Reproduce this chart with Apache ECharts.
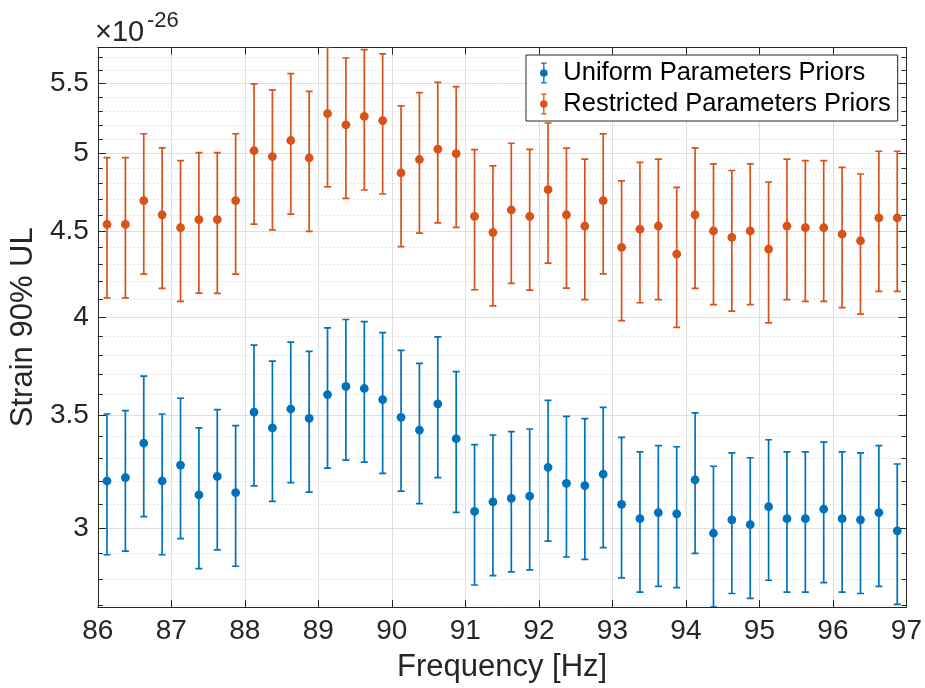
<!DOCTYPE html>
<html><head><meta charset="utf-8">
<script src="https://cdn.jsdelivr.net/npm/echarts@6/dist/echarts.min.js"></script>
<style>html,body{margin:0;padding:0;background:#fff}#c{width:925px;height:688px}</style>
</head><body><div id="c"></div>
<script>
// Frequency [Hz] of each band
const freqs = [86.125, 86.375, 86.625, 86.875, 87.125, 87.375, 87.625, 87.875,
  88.125, 88.375, 88.625, 88.875, 89.125, 89.375, 89.625, 89.875,
  90.125, 90.375, 90.625, 90.875, 91.125, 91.375, 91.625, 91.875,
  92.125, 92.375, 92.625, 92.875, 93.125, 93.375, 93.625, 93.875,
  94.125, 94.375, 94.625, 94.875, 95.125, 95.375, 95.625, 95.875,
  96.125, 96.375, 96.625, 96.875];
// Strain 90% UL (x 1e-26)
const uniformStrain = [3.20, 3.215, 3.37, 3.20, 3.27, 3.14, 3.22, 3.15,
  3.515, 3.44, 3.53, 3.485, 3.60, 3.64, 3.63, 3.575,
  3.49, 3.43, 3.555, 3.39, 3.07, 3.11, 3.125, 3.135,
  3.26, 3.19, 3.18, 3.23, 3.10, 3.04, 3.065, 3.06,
  3.205, 2.98, 3.035, 3.015, 3.09, 3.04, 3.04, 3.08,
  3.04, 3.035, 3.065, 2.99];
const uniformErr = [0.306, 0.307, 0.322, 0.306, 0.312, 0.300, 0.307, 0.301,
  0.336, 0.328, 0.337, 0.333, 0.343, 0.348, 0.347, 0.342,
  0.334, 0.327, 0.340, 0.324, 0.293, 0.297, 0.298, 0.300,
  0.312, 0.305, 0.304, 0.308, 0.296, 0.290, 0.293, 0.293,
  0.306, 0.285, 0.290, 0.288, 0.295, 0.290, 0.290, 0.294,
  0.290, 0.290, 0.293, 0.285];
const restrictedStrain = [4.54, 4.54, 4.69, 4.60, 4.52, 4.57, 4.57, 4.69,
  5.02, 4.98, 5.09, 4.97, 5.28, 5.20, 5.26, 5.23,
  4.87, 4.96, 5.03, 5.00, 4.59, 4.49, 4.63, 4.59,
  4.76, 4.60, 4.53, 4.69, 4.40, 4.51, 4.53, 4.36,
  4.60, 4.50, 4.46, 4.50, 4.39, 4.53, 4.52, 4.52,
  4.48, 4.44, 4.58, 4.58];
const restrictedErr = [0.433, 0.433, 0.447, 0.439, 0.432, 0.436, 0.437, 0.447,
  0.478, 0.474, 0.486, 0.473, 0.502, 0.496, 0.502, 0.498,
  0.466, 0.474, 0.480, 0.478, 0.437, 0.427, 0.441, 0.439,
  0.453, 0.438, 0.432, 0.446, 0.418, 0.430, 0.433, 0.415,
  0.439, 0.430, 0.426, 0.430, 0.420, 0.433, 0.432, 0.432,
  0.427, 0.423, 0.436, 0.436];
const yMajorTicks = [3, 3.5, 4, 4.5, 5, 5.5];
const yMinorTicks = [2.7, 2.8, 2.9, 3.1, 3.2, 3.3, 3.4, 3.6, 3.7, 3.8, 3.9,
  4.1, 4.2, 4.3, 4.4, 4.6, 4.7, 4.8, 4.9, 5.1, 5.2, 5.3, 5.4, 5.6, 5.7];
const seriesNames = ['Uniform Parameters Priors', 'Restricted Parameters Priors'];
const seriesColors = ['#0072BD', '#D95319'];

const FONT = '"Liberation Sans", Arial, Helvetica, sans-serif';
const AX = '#262626';
const yMin = 2.695, yMax = 5.778;

function buildData(vals, errs) {
  return freqs.map((f, i) => [f, vals[i] - errs[i], vals[i] + errs[i], vals[i]]);
}
function renderErr(params, api) {
  const x = api.value(0);
  const pLo = api.coord([x, api.value(1)]);
  const pHi = api.coord([x, api.value(2)]);
  const pC = api.coord([x, api.value(3)]);
  const color = api.visual('color');
  const hw = 3.5, lw = 1.7;
  const st = { stroke: color, lineWidth: lw };
  return { type: 'group', children: [
    { type: 'line', shape: { x1: pHi[0], y1: pHi[1], x2: pLo[0], y2: pLo[1] }, style: st },
    { type: 'line', shape: { x1: pHi[0] - hw, y1: pHi[1], x2: pHi[0] + hw, y2: pHi[1] }, style: st },
    { type: 'line', shape: { x1: pLo[0] - hw, y1: pLo[1], x2: pLo[0] + hw, y2: pLo[1] }, style: st },
    { type: 'circle', shape: { cx: pC[0], cy: pC[1], r: 4.4 }, style: { fill: color } }
  ]};
}
const icon = 'path://M2,0 H8 V1.4 H2 Z M4.3,0 H5.7 V22 H4.3 Z M2,20.6 H8 V22 H2 Z M1,11 A4,4 0 1,1 9,11 A4,4 0 1,1 1,11 Z';

function yAx(extra) {
  return Object.assign({
    type: 'log', logBase: 10, min: yMin, max: yMax,
    axisLine: { show: false }, axisLabel: { show: false },
    splitLine: { show: false }, minorTick: { show: false }, minorSplitLine: { show: false }
  }, extra);
}

const option = {
  backgroundColor: '#fff',
  animation: false,
  color: seriesColors,
  grid: { left: 92, right: 18, top: 47.5, bottom: 79.7, containLabel: false },
  xAxis: [{
    type: 'value', position: 'bottom', min: 86, max: 97, interval: 1,
    axisLine: { show: true, lineStyle: { color: AX, width: 1 } },
    axisTick: { inside: true, length: 7, lineStyle: { color: AX } },
    axisLabel: { fontSize: 28, color: AX, fontFamily: FONT, margin: 10 },
    splitLine: { show: true, lineStyle: { color: '#dfdfdf', width: 1 } },
    name: 'Frequency [Hz]', nameLocation: 'middle', nameGap: 45,
    nameTextStyle: { fontSize: 31, color: AX, fontFamily: FONT }
  }, {
    type: 'value', position: 'top', min: 86, max: 97, interval: 1,
    axisLine: { show: true, lineStyle: { color: AX, width: 1 } },
    axisTick: { inside: true, length: 7, lineStyle: { color: AX } },
    axisLabel: { show: false }, splitLine: { show: false }
  }],
  yAxis: [
    yAx({ position: 'left',
      axisLine: { show: true, lineStyle: { color: AX, width: 1 } },
      axisTick: { inside: true, length: 8, lineStyle: { color: AX }, customValues: yMajorTicks },
      axisLabel: { show: true, fontSize: 28, color: AX, fontFamily: FONT, margin: 9, customValues: yMajorTicks },
      splitLine: { show: true, lineStyle: { color: '#dfdfdf', width: 1 } },
      name: 'Strain 90% UL', nameLocation: 'middle', nameGap: 50, nameRotate: 90,
      nameTextStyle: { fontSize: 31, color: AX, fontFamily: FONT } }),
    yAx({ position: 'left',
      axisTick: { inside: true, length: 5, lineStyle: { color: AX }, customValues: yMinorTicks },
      axisLabel: { show: false, customValues: yMinorTicks },
      splitLine: { show: true, lineStyle: { color: '#cccccc', width: 1, type: [1, 3] } } }),
    yAx({ position: 'right',
      axisLine: { show: true, lineStyle: { color: AX, width: 1 } },
      axisTick: { inside: true, length: 8, lineStyle: { color: AX }, customValues: yMajorTicks },
      axisLabel: { show: false, customValues: yMajorTicks } }),
    yAx({ position: 'right',
      axisTick: { inside: true, length: 5, lineStyle: { color: AX }, customValues: yMinorTicks },
      axisLabel: { show: false, customValues: yMinorTicks } })
  ],
  legend: {
    orient: 'vertical', left: 526, top: 55,
    padding: [5, 7, 4, 14], itemGap: 5, itemWidth: 29, itemHeight: 21,
    backgroundColor: '#fff', borderColor: AX, borderWidth: 1, borderRadius: 0,
    icon: icon, symbolKeepAspect: true,
    textStyle: { fontSize: 25.5, color: '#000', fontFamily: FONT },
    data: seriesNames
  },
  graphic: [
    { type: 'text', x: 95, y: 33, style: { text: '×10', fontSize: 29, fill: AX, fontFamily: FONT, verticalAlign: 'middle', align: 'left' } },
    { type: 'text', x: 147, y: 21, style: { text: '-26', fontSize: 22, fill: AX, fontFamily: FONT, verticalAlign: 'middle', align: 'left' } }
  ],
  series: [
    { name: seriesNames[0], type: 'custom', xAxisIndex: 0, yAxisIndex: 0, clip: true,
      itemStyle: { color: seriesColors[0] }, renderItem: renderErr,
      encode: { x: 0, y: [1, 2, 3] }, data: buildData(uniformStrain, uniformErr) },
    { name: seriesNames[1], type: 'custom', xAxisIndex: 0, yAxisIndex: 0, clip: true,
      itemStyle: { color: seriesColors[1] }, renderItem: renderErr,
      encode: { x: 0, y: [1, 2, 3] }, data: buildData(restrictedStrain, restrictedErr) }
  ]
};
const chart = echarts.init(document.getElementById('c'));
chart.setOption(option);
</script></body></html>
